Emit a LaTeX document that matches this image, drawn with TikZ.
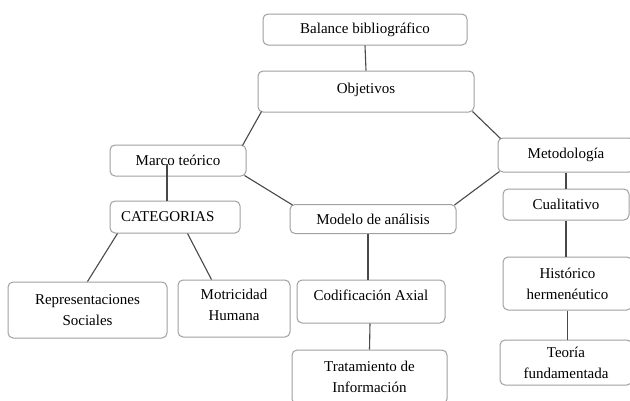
\documentclass[tikz,border=0pt]{standalone}
\usepackage{fontspec}
\setmainfont{Liberation Serif}
\definecolor{boxline}{HTML}{A0A0A0}
\definecolor{link}{HTML}{484848}

\begin{document}
\begin{tikzpicture}[x=1pt, y=-1pt, line width=1pt,
  box/.style={draw=boxline, rounded corners=5pt, fill=white, inner sep=2pt,
    align=center, font=\fontsize{15}{21}\selectfont},
  link/.style={draw=link, line width=1.1pt}]
  \useasboundingbox (0,0) rectangle (630,400);
  \clip (0,0) rectangle (630,400);
  % boxes
  \node[box, minimum width=204pt, minimum height=31pt] (bal) at (365,29.5) {Balance bibliográfico};
  \node[box, minimum width=216pt, minimum height=41pt, text depth=7pt] (obj) at (366,91.5) {Objetivos};
  \node[box, minimum width=136pt, minimum height=31pt] (marco) at (178,160.5) {Marco teórico};
  \node[box, minimum height=32pt, inner xsep=11pt, text width=108pt, align=left] (cat) at (175,217) {CATEGORIAS};
  \node[box, minimum width=166pt, minimum height=29pt] (modelo) at (373,219) {Modelo de análisis};
  \node[box, minimum width=136pt, minimum height=34pt] (metod) at (566,155) {Metodología};
  \node[box, minimum width=126pt, minimum height=31pt] (cual) at (566,204.5) {Cualitativo};
  \node[box, minimum width=159pt, minimum height=56pt] (rep) at (87.5,310) {Representaciones\\Sociales};
  \node[box, minimum width=112pt, minimum height=57pt, text depth=8pt] (mot) at (234,308.5) {Motricidad\\Humana};
  \node[box, minimum width=148pt, minimum height=43pt, text depth=12pt] (cod) at (371,301.5) {Codificación Axial};
  \node[box, minimum width=155pt, minimum height=54pt] (trat) at (369.5,377) {Tratamiento de\\Información};
  \node[box, minimum width=129pt, minimum height=53pt] (hist) at (567.5,283.5) {Histórico\\hermenéutico};
  \node[box, minimum width=132pt, minimum height=45pt] (teo) at (566,362.5) {Teoría\\fundamentada};
  % connectors
  \draw[link] (bal.south) -- (obj.north);
  \draw[link] ([shift={(4,-1)}]obj.south west) -- ([shift={(-4,1)}]marco.north east);
  \draw[link] ([shift={(-2,-1)}]obj.south east) -- ([shift={(3,1)}]metod.north west);
  \draw[link] ([shift={(-2,-1)}]marco.south east) -- ([shift={(3,1)}]modelo.north west);
  \draw[link] ([shift={(-2,1)}]modelo.north east) -- ([shift={(2,-1)}]metod.south west);
  \draw[link] ([shift={(-11,3)}]marco.center) -- ([shift={(-8,0)}]cat.north);
  \draw[link] ([shift={(8,0)}]cat.south west) -- (rep.north);
  \draw[link] ([shift={(78,0)}]cat.south west) -- ([shift={(34,0)}]mot.north west);
  \draw[link] ([shift={(-5,0)}]modelo.south) -- ([shift={(-3,0)}]cod.north);
  \draw[link] ([shift={(-1,0)}]cod.south) -- (trat.north);
  \foreach \a/\b in {metod/cual, cual/hist, hist/teo}
    \draw[link] (\a.south) -- (\a.south |- \b.north);
\end{tikzpicture}
\end{document}
